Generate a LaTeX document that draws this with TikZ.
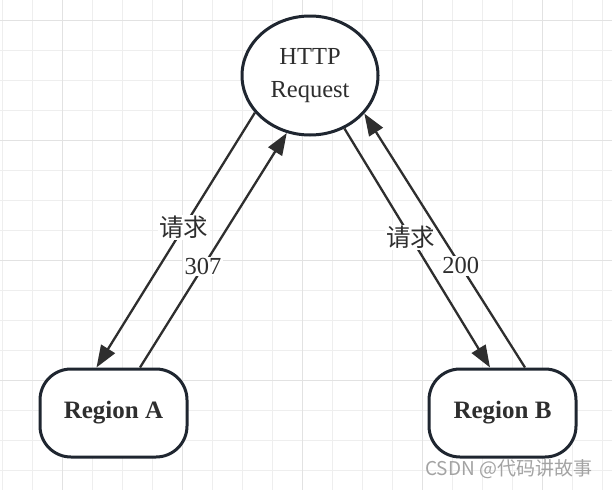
\documentclass[tikz,border=0pt]{standalone}
\usepackage{fontspec}
\setmainfont{Liberation Serif}
\newfontfamily\cjk{Noto Sans CJK SC}
\newfontfamily\wmfont{Noto Sans CJK SC}
\usetikzlibrary{shapes.geometric,arrows.meta}
\definecolor{gridlight}{HTML}{EEEEEE}
\definecolor{griddark}{HTML}{E2E2E2}
\definecolor{border}{HTML}{1F2630}
\definecolor{ink}{HTML}{2E2E2E}
\definecolor{wmgrey}{HTML}{A3A3A3}
\tikzset{
  bubble/.style={ellipse,draw=border,line width=3pt,fill=white,minimum width=136pt,minimum height=119pt,inner sep=0pt,align=center,text=ink,font=\fontsize{24.5}{33}\selectfont},
  region/.style={rectangle,rounded corners=31pt,draw=border,line width=3pt,fill=white,minimum width=147pt,minimum height=88pt,inner sep=0pt,text=ink,font=\fontsize{25}{30}\selectfont\bfseries},
  conn/.style={draw=ink,line width=2.3pt,-{Triangle[length=22pt,width=16pt]}},
  lbl/.style={fill=white,inner sep=1.5pt,text=ink,font=\fontsize{24.5}{28}\selectfont}
}
\begin{document}
\begin{tikzpicture}[x=1pt,y=-1pt]
\useasboundingbox (0,0) rectangle (612,490);
\fill[white] (0,0) rectangle (612,490);
% grid
\foreach \i in {0,...,20} {
  \pgfmathsetmacro{\xx}{2.7+30*\i}
  \draw[gridlight,line width=1.5pt] (\xx,0) -- (\xx,490);
}
\foreach \i in {0,...,16} {
  \pgfmathsetmacro{\yy}{20.7+30*\i}
  \draw[gridlight,line width=1.5pt] (0,\yy) -- (612,\yy);
}
\foreach \i in {0,...,4} {
  \pgfmathsetmacro{\xx}{62.7+120*\i}
  \draw[griddark,line width=1.5pt] (\xx,0) -- (\xx,490);
}
\foreach \i in {0,...,3} {
  \pgfmathsetmacro{\yy}{20.7+120*\i}
  \draw[griddark,line width=1.5pt] (0,\yy) -- (612,\yy);
}
% nodes
\node[bubble] (http) at (310,75.5) {HTTP\\Request};
\node[region] (A) at (113.5,413) {Region A};
\node[region] (B) at (502.5,413) {Region B};
% connectors
\draw[conn] (http.214) -- node[lbl,pos=0.45] {\cjk 请求} ([xshift=-17pt]A.north);
\draw[conn] ([xshift=26.5pt]A.north) -- node[lbl,pos=0.43] {307} (http.248.7);
\draw[conn] (http.303.7) -- node[lbl,pos=0.456] {\cjk 请求} ([xshift=-12.5pt]B.north);
\draw[conn] ([xshift=22.5pt]B.north) -- node[lbl,pos=0.40] {200} (http.325.3);
% watermark
\node[anchor=west,inner sep=0pt,text=wmgrey,font=\wmfont\fontsize{19}{22}\selectfont] (wm) at (425,469) {CSDN @代码讲故事};
\end{tikzpicture}
\end{document}
